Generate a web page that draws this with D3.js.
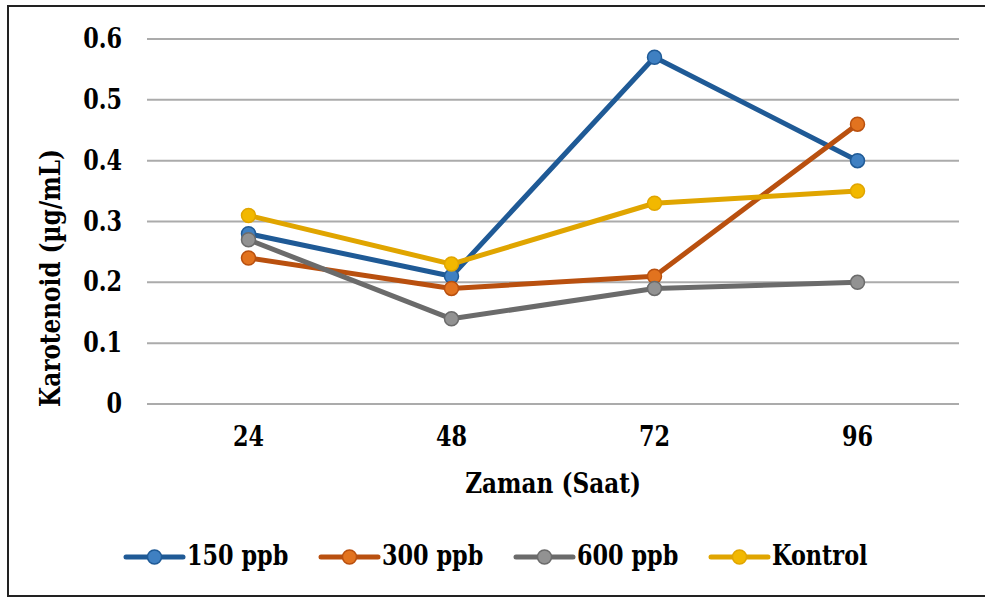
<!DOCTYPE html>
<html>
<head>
<meta charset="utf-8">
<script src="https://cdn.jsdelivr.net/npm/d3@7"></script>
<style>
  body { margin: 0; background: #fff; }
  svg text { font-family: "DejaVu Serif", serif; font-weight: bold; font-stretch: condensed; fill: #000; }
</style>
</head>
<body>
<div id="chart"></div>
<script>
var categories = ["24", "48", "72", "96"];
var seriesNames = ["150 ppb", "300 ppb", "600 ppb", "Kontrol"];
var values150 = [0.28, 0.21, 0.57, 0.40];
var values300 = [0.24, 0.19, 0.21, 0.46];
var values600 = [0.27, 0.14, 0.19, 0.20];
var valuesKontrol = [0.31, 0.23, 0.33, 0.35];
var yTicks = [0, 0.1, 0.2, 0.3, 0.4, 0.5, 0.6];

var lineColors = ["#1f5a96", "#b9500f", "#6b6b6b", "#e0a500"];
var markerColors = ["#3f80c2", "#e2731f", "#929292", "#f2b800"];

var series = [values150, values300, values600, valuesKontrol].map(function (v, i) {
    return { name: seriesNames[i], values: v, line: lineColors[i], marker: markerColors[i] };
});

var width = 985, height = 598;
var margin = { top: 39, right: 26, bottom: 194, left: 147 };
var squeeze = 0.92; // horizontal squeeze so the wide serif reads like Times

var svg = d3.select("#chart").append("svg")
    .attr("width", width)
    .attr("height", height);

// outer frame
svg.append("rect")
    .attr("x", 8).attr("y", 6)
    .attr("width", 1000).attr("height", 590)
    .attr("fill", "none")
    .attr("stroke", "#222")
    .attr("stroke-width", 2);

var xScale = d3.scaleBand()
    .domain(categories)
    .range([margin.left, width - margin.right]);
var yScale = d3.scaleLinear()
    .domain([0, 0.6])
    .range([height - margin.bottom, margin.top]);

// gridlines
svg.append("g")
    .selectAll("line")
    .data(yTicks)
    .enter().append("line")
    .attr("x1", margin.left)
    .attr("x2", width - margin.right)
    .attr("y1", function (d) { return yScale(d); })
    .attr("y2", function (d) { return yScale(d); })
    .attr("stroke", "#ababab")
    .attr("stroke-width", 2);

// y axis labels
var yAxis = svg.append("g")
    .attr("transform", "translate(" + margin.left + ",0)")
    .call(d3.axisLeft(yScale).tickValues(yTicks).tickSize(0).tickPadding(27)
        .tickFormat(function (d) { return d === 0 ? "0" : d3.format(".1f")(d); }))
    .attr("font-size", 27);
yAxis.select(".domain").remove();
yAxis.selectAll("text").attr("transform", "scale(" + squeeze + ",1)");

// x axis labels
var xAxis = svg.append("g")
    .attr("transform", "translate(0," + yScale(0) + ")")
    .call(d3.axisBottom(xScale).tickSize(0).tickPadding(23))
    .attr("font-size", 27);
xAxis.select(".domain").remove();
xAxis.selectAll("text").attr("transform", "scale(" + squeeze + ",1)");

// axis titles
svg.append("text")
    .attr("transform", "translate(553,493) scale(" + squeeze + ",1)")
    .attr("text-anchor", "middle")
    .attr("font-size", 28)
    .text("Zaman (Saat)");

svg.append("text")
    .attr("transform", "translate(60,278) rotate(-90) scale(" + squeeze + ",1)")
    .attr("text-anchor", "middle")
    .attr("font-size", 28)
    .text("Karotenoid (µg/mL)");

// lines and markers
var line = d3.line()
    .x(function (d, i) { return xScale(categories[i]) + xScale.bandwidth() / 2; })
    .y(function (d) { return yScale(d); });

series.forEach(function (s) {
    svg.append("path")
        .datum(s.values)
        .attr("d", line)
        .attr("fill", "none")
        .attr("stroke", s.line)
        .attr("stroke-width", 5)
        .attr("stroke-linejoin", "round");
    svg.append("g")
        .selectAll("circle")
        .data(s.values)
        .enter().append("circle")
        .attr("cx", function (d, i) { return xScale(categories[i]) + xScale.bandwidth() / 2; })
        .attr("cy", function (d) { return yScale(d); })
        .attr("r", 7)
        .attr("fill", s.marker)
        .attr("stroke", s.line)
        .attr("stroke-width", 1.5);
});

// legend
var legend = svg.append("g")
    .attr("transform", "translate(126,557)");
var item = legend.selectAll("g")
    .data(series)
    .enter().append("g")
    .attr("transform", function (d, i) { return "translate(" + (i * 195) + ",0)"; });
item.append("line")
    .attr("x1", 0).attr("x2", 57)
    .attr("stroke", function (d) { return d.line; })
    .attr("stroke-width", 5)
    .attr("stroke-linecap", "round");
item.append("circle")
    .attr("cx", 28.5)
    .attr("r", 7)
    .attr("fill", function (d) { return d.marker; })
    .attr("stroke", function (d) { return d.line; })
    .attr("stroke-width", 1.5);
item.append("text")
    .attr("transform", "translate(61,8) scale(" + squeeze + ",1)")
    .attr("font-size", 27)
    .text(function (d) { return d.name; });
</script>
</body>
</html>
